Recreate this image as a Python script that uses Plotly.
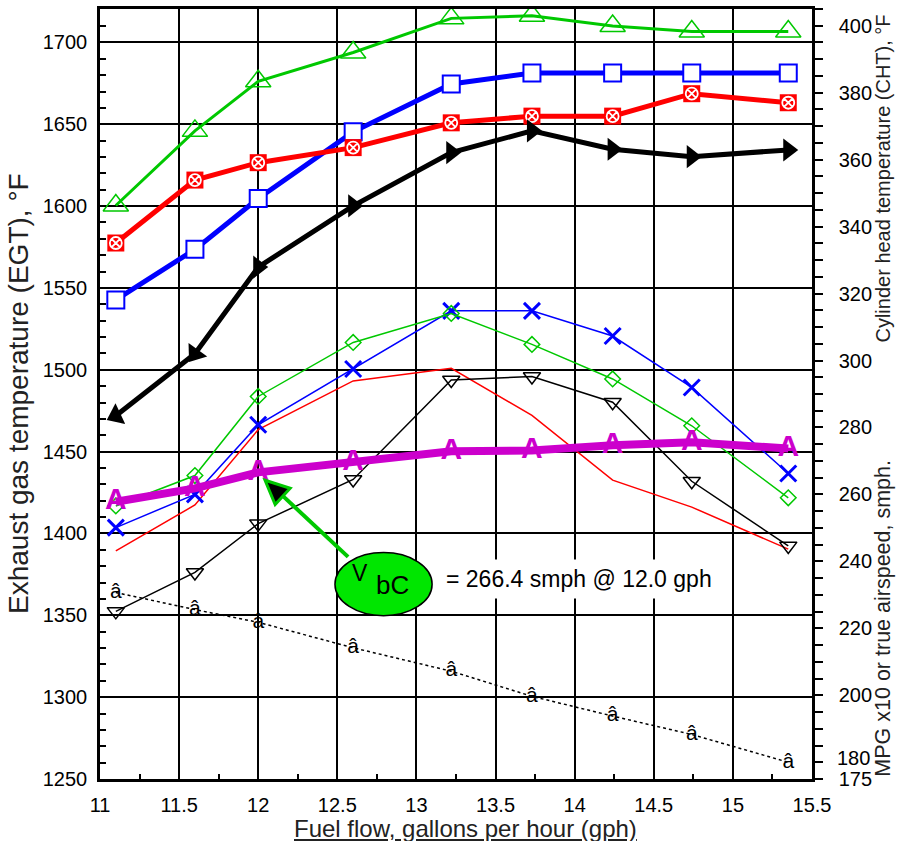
import plotly.graph_objects as go

# ---------------- data ----------------
fuel_flow_gph = [11.1, 11.6, 12.0, 12.6, 13.22, 13.73, 14.24, 14.74, 15.35]

# Exhaust gas temperatures (left axis, deg F) - thin lines
egt_green_diamond = [1416.8, 1435.4, 1483.7, 1516.7, 1534.4, 1515.5, 1494.4, 1465.8, 1421.8]
egt_blue_x = [1403.6, 1423.9, 1466.4, 1500.5, 1536.0, 1536.0, 1520.6, 1489.2, 1436.6]
egt_red = [1389.4, 1417.4, 1463.4, 1493.2, 1500.9, 1472.1, 1432.6, 1416.1, 1390.4]
egt_black_tri = [1352.4, 1376.2, 1406.0, 1433.0, 1493.8, 1495.9, 1480.2, 1431.9, 1392.4]

# Cylinder head temperatures (right axis, deg F) - thick lines
cht_green_tri = [346.3, 368.6, 383.4, 392.0, 402.2, 403.0, 399.9, 398.3, 398.3]
cht_blue_sq = [318.1, 333.2, 348.4, 368.3, 382.6, 385.9, 385.9, 385.9, 385.9]
cht_red_sq = [335.1, 353.9, 359.1, 363.6, 371.0, 373.0, 373.0, 379.7, 377.0]
cht_black_arrow = [283.5, 302.0, 327.9, 346.2, 362.1, 368.6, 363.1, 360.9, 362.9]
arrow_angles = [155, 126, 0, 0, 0, 0, 0, 0, 0]

# True airspeed (smph) and MPG x10 (right axis)
true_airspeed = [257.8, 261.8, 266.6, 269.6, 272.9, 273.1, 274.7, 275.6, 273.7]
mpg_x10 = [230.7, 225.6, 221.8, 214.2, 207.2, 199.7, 193.8, 188.3, 180.0]

left_range = [1250, 1720.4]
right_range = [175, 405.0]
right_ticks = [175, 180, 200, 220, 240, 260, 280, 300, 320, 340, 360, 380, 400]
right_ticktext = ["175", "", "200", "220", "240", "260", "280", "300", "320", "340",
                  "360", "380", "400"]

GREEN = "#00C800"
BLUE = "#0000FF"
RED = "#FF0000"
MAGENTA = "#CC00CC"
FONT = "Liberation Sans, Arial, sans-serif"

fig = go.Figure()

# ---- thin EGT lines (left axis) ----
fig.add_trace(go.Scatter(x=fuel_flow_gph, y=egt_red, mode="lines",
                         line=dict(color=RED, width=1.5)))
fig.add_trace(go.Scatter(x=fuel_flow_gph, y=egt_black_tri, mode="lines+markers",
                         line=dict(color="black", width=1.5),
                         marker=dict(symbol="triangle-down-open", size=15,
                                     color="black", line=dict(width=1.5))))
fig.add_trace(go.Scatter(x=fuel_flow_gph, y=egt_blue_x, mode="lines+markers",
                         line=dict(color=BLUE, width=1.5),
                         marker=dict(symbol="x-thin-open", size=16,
                                     color=BLUE, line=dict(width=3, color=BLUE))))
fig.add_trace(go.Scatter(x=fuel_flow_gph, y=egt_green_diamond, mode="lines+markers",
                         line=dict(color=GREEN, width=1.5),
                         marker=dict(symbol="diamond-open", size=12,
                                     color=GREEN, line=dict(width=1.5))))

# ---- MPG x10 dotted (right axis) ----
fig.add_trace(go.Scatter(x=fuel_flow_gph, y=mpg_x10, yaxis="y2", mode="lines+text",
                         text=["â"] * len(mpg_x10), textposition="middle center",
                         textfont=dict(family=FONT, size=21, color="black"),
                         line=dict(color="black", width=1.5, dash="dot")))

# ---- thick CHT lines (right axis) ----
fig.add_trace(go.Scatter(x=fuel_flow_gph, y=cht_green_tri, yaxis="y2", mode="lines+markers",
                         line=dict(color=GREEN, width=3),
                         marker=dict(symbol="triangle-up-open", size=22,
                                     color=GREEN, line=dict(width=1.5))))
fig.add_trace(go.Scatter(x=fuel_flow_gph, y=cht_blue_sq, yaxis="y2", mode="lines+markers",
                         line=dict(color=BLUE, width=5),
                         marker=dict(symbol="square", size=17, color="white",
                                     line=dict(width=2, color=BLUE))))
fig.add_trace(go.Scatter(x=fuel_flow_gph, y=cht_red_sq, yaxis="y2", mode="lines+markers",
                         line=dict(color=RED, width=5),
                         marker=dict(symbol="square", size=17, color=RED,
                                     line=dict(width=0))))
fig.add_trace(go.Scatter(x=fuel_flow_gph, y=cht_red_sq, yaxis="y2", mode="markers",
                         marker=dict(symbol="circle-x-open", size=12, color="white",
                                     line=dict(width=1.8, color="white"))))
fig.add_trace(go.Scatter(x=fuel_flow_gph, y=cht_black_arrow, yaxis="y2", mode="lines+markers",
                         line=dict(color="black", width=5),
                         marker=dict(symbol="triangle-right", size=20, color="black",
                                     angle=arrow_angles, line=dict(width=0))))

# ---- true airspeed (right axis) ----
fig.add_trace(go.Scatter(x=fuel_flow_gph, y=true_airspeed, yaxis="y2", mode="lines+text",
                         text=["A"] * len(true_airspeed), textposition="middle center",
                         textfont=dict(family=FONT, size=30, color=MAGENTA, weight="bold"),
                         line=dict(color=MAGENTA, width=8)))

# ---------------- annotation (V_bC) ----------------
shapes = [
    dict(type="line", xref="x", yref="y", x0=12.568, y0=1385.7, x1=12.157, y1=1422.8,
         line=dict(color=GREEN, width=4), layer="above"),
    dict(type="path", xref="x", yref="y",
         path="M 12.043,1432.5 L 12.202,1427.6 L 12.107,1417.7 Z",
         fillcolor="black", line=dict(color=GREEN, width=3), layer="above"),
    dict(type="circle", xref="x", yref="y", x0=12.485, x1=13.099, y0=1349.8, y1=1388.3,
         fillcolor="#00E600", line=dict(color="black", width=1.5), layer="above"),
]

annotations = [
    dict(x=12.643, y=1376.0, xref="x", yref="y", text="V", showarrow=False,
         font=dict(family=FONT, size=23, color="black")),
    dict(x=12.85, y=1368.5, xref="x", yref="y", text="bC", showarrow=False,
         font=dict(family=FONT, size=26, color="black")),
    dict(x=13.14, y=1372.3, xref="x", yref="y", text="= 266.4 smph @ 12.0 gph",
         showarrow=False, xanchor="left", yanchor="middle", bgcolor="white", borderpad=6,
         font=dict(family=FONT, size=23, color="black")),
    # right-axis "180" label, nudged up as in the original
    dict(x=1, y=180, xref="paper", yref="y2", text="180", showarrow=False,
         xanchor="left", yanchor="middle", xshift=23, yshift=4,
         font=dict(family=FONT, size=20, color="black")),
    # axis titles
    dict(x=0, y=0.5, xref="paper", yref="paper", xshift=-82, textangle=-90,
         text="Exhaust gas temperature (EGT), °F", showarrow=False,
         xanchor="center", yanchor="middle", font=dict(family=FONT, size=28, color="#222")),
    dict(x=0.514, y=0, xref="paper", yref="paper", yshift=-49,
         text="<u>Fuel flow, gallons per hour (gph)</u>", showarrow=False,
         xanchor="center", yanchor="middle", font=dict(family=FONT, size=24, color="#222")),
    dict(x=1.0997, y=0.7798, xref="paper", yref="paper", textangle=-90,
         text="Cylinder head temperature (CHT), °F", showarrow=False,
         xanchor="center", yanchor="middle", font=dict(family=FONT, size=20, color="#222")),
    dict(x=1.0997, y=0.2095, xref="paper", yref="paper", textangle=-90,
         text="MPG x10 or true airspeed, smph.", showarrow=False,
         xanchor="center", yanchor="middle", font=dict(family=FONT, size=21.5, color="#222")),
]

fig.update_layout(
    width=897, height=841,
    margin=dict(l=100, r=85, t=6, b=62),
    paper_bgcolor="white", plot_bgcolor="white",
    showlegend=False,
    shapes=shapes, annotations=annotations,
    xaxis=dict(range=[11, 15.5], dtick=0.5, tick0=11, showgrid=True,
               gridcolor="black", gridwidth=1.8, showline=True, linecolor="black",
               linewidth=2.5, mirror=True, ticks="inside", ticklen=5, tickwidth=1.5,
               tickcolor="black", zeroline=False,
               minor=dict(dtick=0.25, tick0=11, ticks="inside", ticklen=5,
                          tickcolor="black", tickwidth=1.5, showgrid=False),
               tickfont=dict(family=FONT, size=20, color="black"),
               ticklabelstandoff=6),
    yaxis=dict(range=left_range, dtick=50, tick0=1250, showgrid=True,
               gridcolor="black", gridwidth=1.8, showline=True, linecolor="black",
               linewidth=2.5, mirror=False, ticks="inside", ticklen=6, tickwidth=1.5,
               tickcolor="black", zeroline=False,
               minor=dict(dtick=10, tick0=1250, ticks="inside", ticklen=6,
                          tickcolor="black", tickwidth=1.5, showgrid=False),
               tickfont=dict(family=FONT, size=20, color="black"),
               ticklabelstandoff=6),
    yaxis2=dict(range=right_range, overlaying="y", side="right", tickmode="array",
                tickvals=right_ticks, ticktext=right_ticktext, showgrid=False,
                showline=True, linecolor="black",
                linewidth=2.5, ticks="outside", ticklen=8, tickwidth=1.5, tickcolor="black",
                zeroline=False,
                minor=dict(dtick=5, tick0=175, ticks="outside", ticklen=8,
                           tickcolor="black", tickwidth=1.5, showgrid=False),
                tickfont=dict(family=FONT, size=20, color="black"),
                ticklabelstandoff=12),
)

fig.write_html("out.html", config={"displayModeBar": False},
               post_script="document.body.style.margin='0';document.body.style.overflow='hidden';")
